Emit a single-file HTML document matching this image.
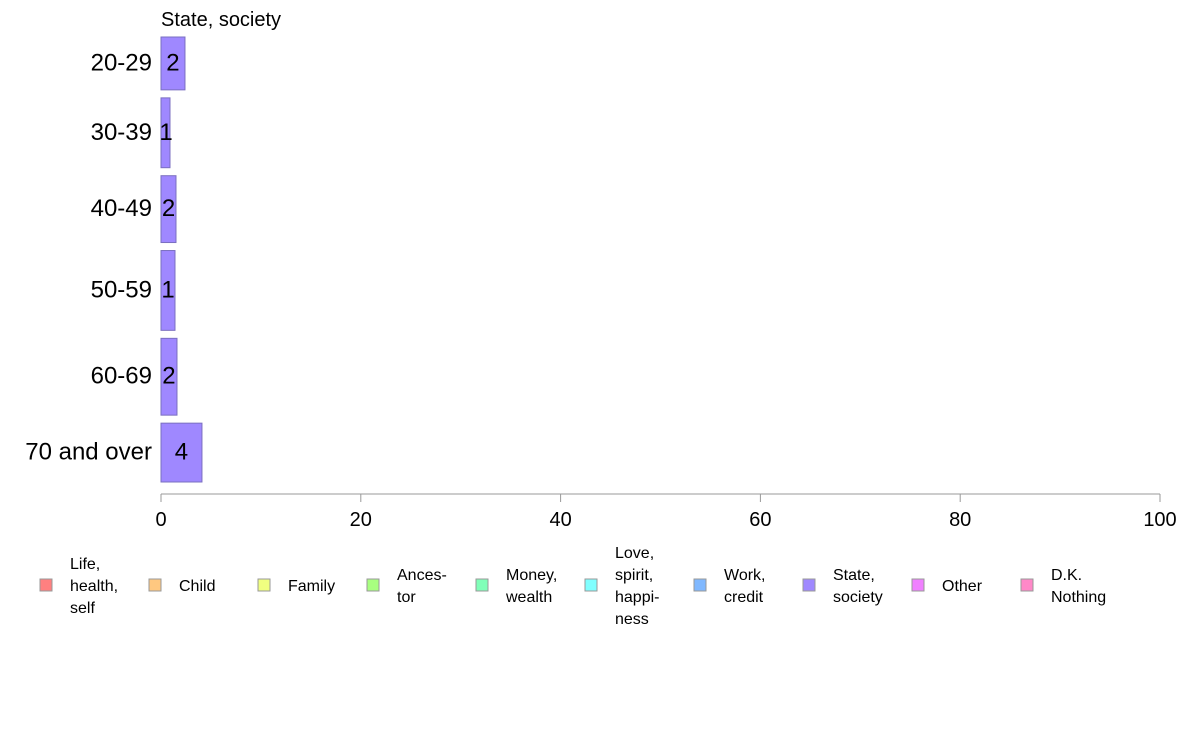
<!DOCTYPE html>
<html><head><meta charset="utf-8"><style>
body{margin:0;background:#fff;font-family:"Liberation Sans",sans-serif}
svg text{font-family:"Liberation Sans",sans-serif}
</style></head><body>
<svg width="1188" height="736" viewBox="0 0 1188 736" xmlns="http://www.w3.org/2000/svg">
<rect width="1188" height="736" fill="#fff"/>
<text x="161" y="26" font-size="20">State, society</text>
<g id="bars"></g>
<g id="axis"></g>
<g id="legend"></g>
</svg>
<script>
const categories = ["20-29","30-39","40-49","50-59","60-69","70 and over"];
const values = [2.4, 0.9, 1.5, 1.4, 1.6, 4.1];
const labels = ["2","1","2","1","2","4"];
const weights = [53, 70, 67, 80, 77, 59];
const ticks = [0,20,40,60,80,100];
const legendNames = [["Life,","health,","self"],["Child"],["Family"],["Ances-","tor"],["Money,","wealth"],["Love,","spirit,","happi-","ness"],["Work,","credit"],["State,","society"],["Other"],["D.K.","Nothing"]];
const legendColors = ["#ff8080","#ffc880","#f0ff80","#a8ff80","#80ffb8","#80ffff","#80b8ff","#9f88ff","#f080ff","#ff88c8"];
const NS="http://www.w3.org/2000/svg";
const x0=161,x1=1160,yTop=37,yBot=482,gap=8;
const xs=v=>x0+(v/100)*(x1-x0);
function mk(t,a,p){const e=document.createElementNS(NS,t);for(const k in a)e.setAttribute(k,a[k]);p.appendChild(e);return e;}
const bars=document.getElementById('bars');
const totalW=weights.reduce((a,b)=>a+b,0);
const scaleH=(yBot-yTop-gap*(categories.length-1))/totalW;
let y=yTop;
categories.forEach((c,i)=>{
  const h=weights[i]*scaleH;
  const r=mk('rect',{x:x0,y:y,width:xs(values[i])-x0,height:h,fill:"#9f88ff",stroke:"#7a6fc0","stroke-width":1},bars);
  
  
  const cy=y+h/2+7;
  const lab=mk('text',{x:152,y:cy,"font-size":24,"text-anchor":"end"},bars);lab.textContent=c;
  
  
  const vl=mk('text',{x:Math.max((x0+xs(values[i]))/2,x0+5),y:cy,"font-size":24,"text-anchor":"middle"},bars);vl.textContent=labels[i];
  
  
  y+=h+gap;
});
const ax=document.getElementById('axis');
const line=mk('line',{x1:x0,x2:x1,y1:494,y2:494,stroke:"#999"},ax);


ticks.forEach(t=>{
  const tk=mk('line',{x1:xs(t),x2:xs(t),y1:494,y2:502,stroke:"#999"},ax);
  
  
  const tl=mk('text',{x:xs(t),y:526,"font-size":20,"text-anchor":"middle"},ax);tl.textContent=t;
  
  
});
const lg=document.getElementById('legend');
legendNames.forEach((n,i)=>{
  const lx=40+i*109;
  const g=mk('g',{},lg);
  
  
  mk('rect',{x:lx,y:579,width:12,height:12,fill:legendColors[i],stroke:"#999"},g);
  const n0=591-(n.length-1)*11;
  n.forEach((s,j)=>{const t=mk('text',{x:lx+30,y:n0+j*22,"font-size":16},g);t.textContent=s;});
});
</script>
</body></html>
